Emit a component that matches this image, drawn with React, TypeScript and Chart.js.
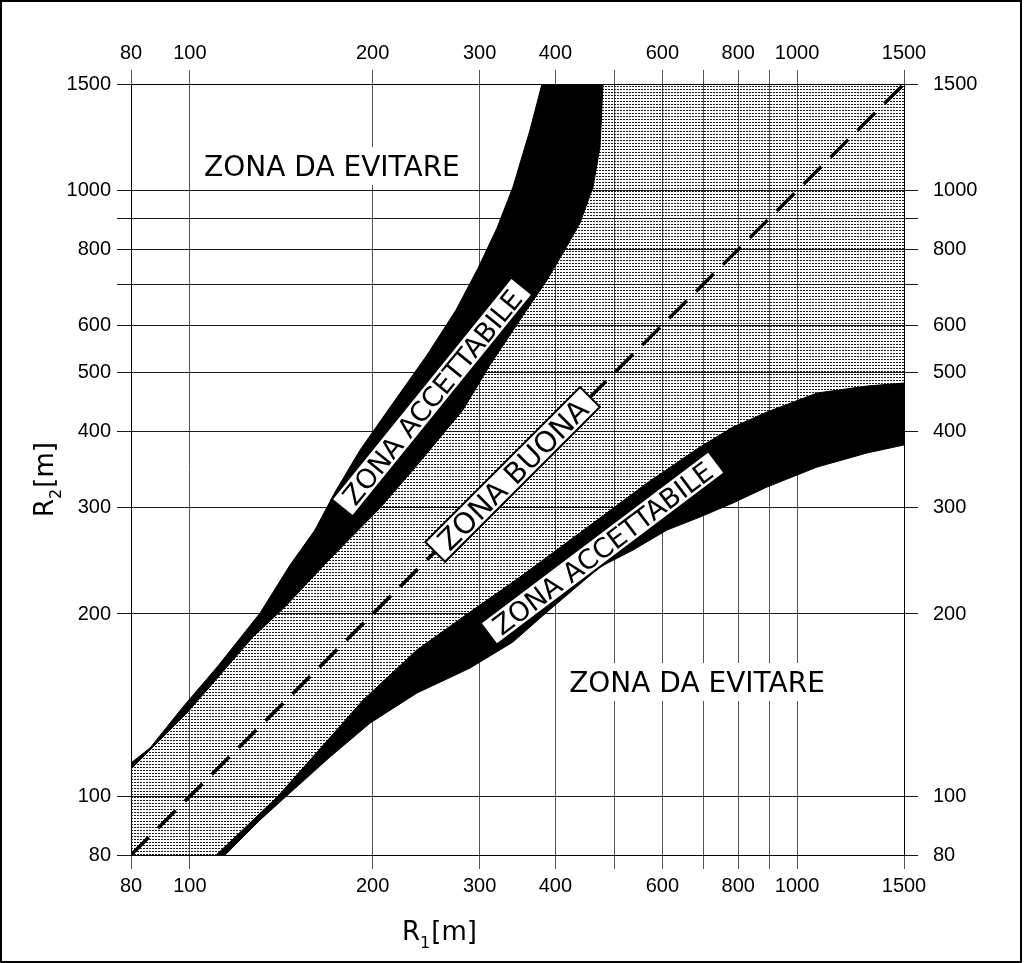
import React, { useEffect, useRef } from "react";
import { Chart, registerables } from "chart.js";

Chart.register(...registerables);

// ---------------- DATA ----------------
const AXIS_MIN = 80;
const AXIS_MAX = 1500;
const GRID_VALUES = [80, 100, 200, 300, 400, 500, 600, 700, 800, 900, 1000, 1500];
const R1_TICK_LABELS = [80, 100, 200, 300, 400, 600, 800, 1000, 1500];
const R2_TICK_LABELS = [80, 100, 200, 300, 400, 500, 600, 800, 1000, 1500];

// upper "zona accettabile" band: outer (upper-left) edge, bottom -> top
const UPPER_OUTER_R1 = [80, 86.0, 97.4, 110.9, 130.5, 146.2, 160.7, 173.4, 190.7, 216.1, 245.8, 274.3, 298.3, 320.5, 340.5, 363.2, 380.1];
const UPPER_OUTER_R2 = [113.5, 120.2, 140.4, 163.5, 200.7, 240.9, 275.2, 317.9, 373.1, 446.0, 535.3, 635.0, 745.0, 867.5, 1013.9, 1259, 1500];
// upper band: inner (lower-right) edge, bottom -> top
const UPPER_INNER_R1 = [80, 98.9, 109.2, 127.0, 143.4, 168.8, 205.7, 233.1, 281.7, 312.1, 349.7, 387.4, 411.6, 439.1, 461.3, 473.7, 479.1];
const UPPER_INNER_R2 = [110.9, 137.3, 153.8, 183.2, 205.4, 244.6, 299.2, 345.7, 434.3, 515.3, 611.5, 711.8, 788.8, 884.1, 1013.9, 1180.3, 1500];

// lower "zona accettabile" band: inner (upper) edge, left -> right
const LOWER_INNER_R1 = [110.5, 139.2, 162.0, 192.9, 236.6, 289.3, 349.7, 461.3, 566.1, 692.0, 784.4, 892.3, 1078.8, 1303.9, 1500];
const LOWER_INNER_R2 = [80, 99.7, 118.3, 144.2, 174.5, 201.5, 230.2, 282.6, 329.1, 377.4, 407.1, 431.0, 463.3, 475.8, 481.2];
// lower band: outer (lower) edge, left -> right
const LOWER_OUTER_R1 = [114.3, 130.5, 146.2, 170.1, 198.1, 236.6, 289.3, 340.5, 387.4, 473.7, 536.8, 610.7, 692.0, 784.4, 892.3, 1078.8, 1303.9, 1500];
const LOWER_OUTER_R2 = [80, 91.4, 101.3, 116.1, 132.1, 148.1, 162.8, 179.8, 201.5, 239.1, 255.0, 275.2, 289.1, 305.0, 324.1, 349.6, 368.9, 380.3];

// R1 = R2 reference line
const DIAGONAL_R1 = [80, 1500];
const DIAGONAL_R2 = [80, 1500];

// zone labels
const ZONE_TEXTS = ["ZONA DA EVITARE", "ZONA DA EVITARE", "ZONA ACCETTABILE", "ZONA BUONA", "ZONA ACCETTABILE"];
const ZONE_R1 = [171.4, 684.2, 250.5, 340, 478.2];
const ZONE_R2 = [1098.4, 154.4, 456.3, 340, 257.0];

// ---------------- STYLES ----------------
const ZONE_STYLES = [
  { angle: 0, size: 28, padX: 6, boxH: 38, border: false },
  { angle: 0, size: 28, padX: 6, boxH: 38, border: false },
  { angle: -51, size: 27, padX: 9, boxH: 27, border: true },
  { angle: -45, size: 29, padX: 10, boxH: 28, border: true },
  { angle: -37, size: 27, padX: 9, boxH: 27, border: true },
];
const LABEL_FONT = '"DejaVu Sans", sans-serif';
const TICK_FONT = { family: '"Liberation Sans", Arial, sans-serif', size: 20 };

const toPoints = (xs: number[], ys: number[]) => xs.map((v, i) => ({ x: v, y: ys[i] }));

function drawTitle(ctx: CanvasRenderingContext2D, sub: string) {
  ctx.fillStyle = "#000";
  ctx.textAlign = "left";
  ctx.textBaseline = "alphabetic";
  ctx.font = `26px ${LABEL_FONT}`;
  ctx.fillText("R", 0, 0);
  let w = ctx.measureText("R").width;
  ctx.font = `16px ${LABEL_FONT}`;
  ctx.fillText(sub, w, 8);
  w += ctx.measureText(sub).width + 1;
  ctx.font = `26px ${LABEL_FONT}`;
  ctx.fillText("[m]", w, 0);
}

const annotationPlugin = {
  id: "zoneAnnotations",
  afterDatasetsDraw(chart: any) {
    const { ctx, scales, chartArea } = chart;
    const xs = scales.x;
    const ys = scales.y;
    ctx.save();
    ctx.beginPath();
    ctx.rect(chartArea.left, chartArea.top, chartArea.right - chartArea.left, chartArea.bottom - chartArea.top);
    ctx.clip();
    ZONE_TEXTS.forEach((text, i) => {
      const st = ZONE_STYLES[i];
      const px = xs.getPixelForValue(ZONE_R1[i]);
      const py = ys.getPixelForValue(ZONE_R2[i]);
      ctx.save();
      ctx.translate(px, py);
      ctx.rotate((st.angle * Math.PI) / 180);
      ctx.font = `${st.size}px ${LABEL_FONT}`;
      const w = ctx.measureText(text).width;
      const bw = w + 2 * st.padX;
      const bh = st.boxH;
      ctx.fillStyle = "#fff";
      ctx.fillRect(-bw / 2, -bh / 2, bw, bh);
      if (st.border) {
        ctx.lineWidth = 2;
        ctx.strokeStyle = "#000";
        ctx.strokeRect(-bw / 2, -bh / 2, bw, bh);
      }
      ctx.fillStyle = "#000";
      ctx.textAlign = "center";
      ctx.textBaseline = "alphabetic";
      ctx.fillText(text, 0, st.size * 0.365);
      ctx.restore();
    });
    ctx.restore();
  },
  afterDraw(chart: any) {
    const { ctx, chartArea } = chart;
    ctx.save();
    ctx.translate(chartArea.left + 271, chartArea.bottom + 85);
    drawTitle(ctx, "1");
    ctx.restore();
    ctx.save();
    ctx.translate(chartArea.left - 78, chartArea.top + 433);
    ctx.rotate(-Math.PI / 2);
    drawTitle(ctx, "2");
    ctx.restore();
  },
};

function makeAxis(position: string, labels: number[], extra: any) {
  const horizontal = position === "top" || position === "bottom";
  return {
    type: "logarithmic",
    position,
    min: AXIS_MIN,
    max: AXIS_MAX,
    afterBuildTicks: (scale: any) => {
      scale.ticks = GRID_VALUES.map((v) => ({ value: v }));
    },
    grid: {
      color: horizontal ? "#555" : "#1a1a1a",
      tickColor: horizontal ? "#555" : "#1a1a1a",
      lineWidth: 1,
      tickLength: 14,
      drawTicks: true,
      drawOnChartArea: position === "bottom" || position === "left",
    },
    border: { display: true, color: "#000", width: 1 },
    ticks: {
      autoSkip: false,
      maxRotation: 0,
      minRotation: 0,
      color: "#000",
      font: TICK_FONT,
      callback: (value: number) => (labels.includes(Number(value)) ? String(value) : ""),
      ...extra.ticks,
    },
    afterFit: extra.afterFit,
  };
}

export default function App() {
  const canvasRef = useRef<HTMLCanvasElement | null>(null);

  useEffect(() => {
    const canvas = canvasRef.current;
    if (!canvas) return;
    const ctx = canvas.getContext("2d");
    if (!ctx) return;

    const tile = document.createElement("canvas");
    tile.width = 3;
    tile.height = 3;
    const tctx = tile.getContext("2d");
    if (tctx) {
      tctx.fillStyle = "rgba(25,25,25,1)";
      tctx.fillRect(0, 0, 2, 1);
    }
    const pattern = ctx.createPattern(tile, "repeat") || "#c8c8c8";

    const upperBand = [
      ...toPoints(UPPER_OUTER_R1, UPPER_OUTER_R2),
      ...toPoints(UPPER_INNER_R1, UPPER_INNER_R2).reverse(),
    ];
    const lowerBand = [
      ...toPoints(LOWER_INNER_R1, LOWER_INNER_R2),
      ...toPoints(LOWER_OUTER_R1, LOWER_OUTER_R2).reverse(),
    ];
    const goodZone = [
      { x: AXIS_MIN, y: AXIS_MIN },
      ...toPoints(UPPER_INNER_R1, UPPER_INNER_R2),
      { x: AXIS_MAX, y: AXIS_MAX },
      ...toPoints(LOWER_INNER_R1, LOWER_INNER_R2).reverse(),
    ];

    const chart = new Chart(canvas, {
      type: "line",
      data: {
        datasets: [
          {
            label: "R1 = R2",
            data: toPoints(DIAGONAL_R1, DIAGONAL_R2),
            borderColor: "#000",
            borderWidth: 3.5,
            borderDash: [25, 13],
            fill: false,
            pointRadius: 0,
            tension: 0,
          },
          {
            label: "Zona accettabile (sup.)",
            data: upperBand,
            borderColor: "#000",
            backgroundColor: "#000",
            borderWidth: 1,
            fill: "shape",
            pointRadius: 0,
            tension: 0,
          },
          {
            label: "Zona accettabile (inf.)",
            data: lowerBand,
            borderColor: "#000",
            backgroundColor: "#000",
            borderWidth: 1,
            fill: "shape",
            pointRadius: 0,
            tension: 0,
          },
          {
            label: "Zona buona",
            data: goodZone,
            borderColor: "rgba(0,0,0,0)",
            backgroundColor: pattern as any,
            borderWidth: 0,
            fill: "shape",
            pointRadius: 0,
            tension: 0,
          },
        ],
      },
      options: {
        animation: false,
        responsive: false,
        maintainAspectRatio: false,
        events: [],
        layout: { padding: 0 },
        plugins: {
          legend: { display: false },
          tooltip: { enabled: false },
          title: { display: false },
        },
        scales: {
          x: makeAxis("bottom", R1_TICK_LABELS, {
            ticks: { padding: 5 },
            afterFit: (s: any) => {
              s.height = 106;
            },
          }),
          xTop: makeAxis("top", R1_TICK_LABELS, {
            ticks: { padding: 5 },
            afterFit: (s: any) => {
              s.height = 82;
            },
          }),
          y: makeAxis("left", R2_TICK_LABELS, {
            ticks: { padding: 6 },
            afterFit: (s: any) => {
              s.width = 129;
            },
          }),
          yRight: makeAxis("right", R2_TICK_LABELS, {
            ticks: { padding: 15 },
            afterFit: (s: any) => {
              s.width = 116;
            },
          }),
        } as any,
      },
      plugins: [annotationPlugin],
    } as any);

    return () => {
      chart.destroy();
    };
  }, []);

  return (
    <div
      style={{
        position: "absolute",
        left: 0,
        top: 0,
        width: 1022,
        height: 963,
        border: "2px solid #000",
        boxSizing: "border-box",
        background: "#fff",
      }}
    >
      <canvas ref={canvasRef} width={1018} height={959} style={{ display: "block", width: 1018, height: 959 }} />
    </div>
  );
}
